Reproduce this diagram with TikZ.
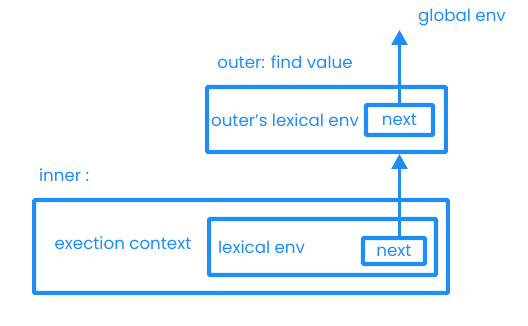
\documentclass[tikz,border=0pt]{standalone}
\usepackage{fontspec}
\setmainfont{Poppins}
\usepackage{xcolor}
\usepackage{tikz}
\usetikzlibrary{positioning,arrows.meta,calc}
\definecolor{envblue}{HTML}{1E8EF5}

\begin{document}
\begin{tikzpicture}[
  x=0.02cm, y=-0.02cm,
  font=\fontsize{9.5}{11}\selectfont,
  >={Triangle[length=8.5pt,width=9pt]},
  frame/.style={draw=envblue, line width=2.3pt, rounded corners=0.6pt,
                inner sep=0pt, fill=white},
  nextbox/.style={frame, text=envblue},
  lbl/.style={text=envblue, inner sep=1pt},
  ar/.style={->, draw=envblue, line width=1.7pt}
]
\useasboundingbox (0,0) rectangle (528,325);

% ===== outer =====
\node[frame, minimum width=4.78cm, minimum height=1.30cm] (outerbox) at (326.5,119.5) {};
\node[nextbox, minimum width=1.34cm, minimum height=0.60cm] (outernext) at (399.5,120) {next};
\node[lbl, anchor=west] (outerlex) at (209,120) {outer's lexical env};
\node[lbl] (outerfind) at (285,62) {outer: find value};
\node[lbl] (globalenv) at (462,18) {global env};
\coordinate (globaltip) at (399.5,30);

% ===== inner =====
\node[lbl, anchor=west] (innerlbl) at (37,175) {inner :};
\node[frame, minimum width=8.28cm, minimum height=1.86cm] (bigbox) at (241,246.5) {};
\node[lbl] (execctx) at (123,243) {exection context};
\node[frame, minimum width=4.54cm, minimum height=1.12cm] (lexbox) at (322.5,247) {};
\node[lbl, anchor=west] (lexenv) at (216,247) {lexical env};
\node[nextbox, minimum width=1.24cm, minimum height=0.52cm] (innernext) at (394,251) {next};

% ===== links =====
\draw[ar] (innernext.north -| outernext.center) -- (outerbox.south -| outernext.center);
\draw[ar] (outernext.north) -- (globaltip);
\end{tikzpicture}
\end{document}
